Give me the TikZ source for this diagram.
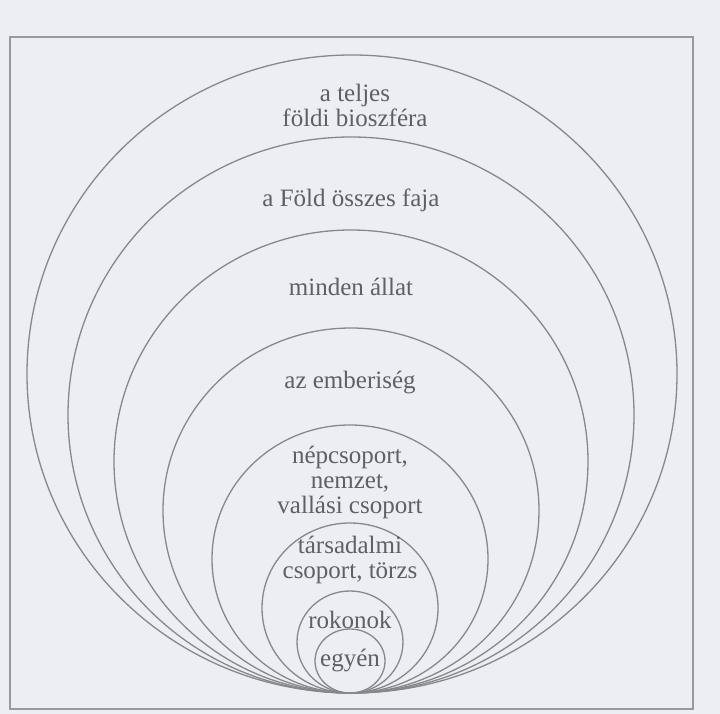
\documentclass[tikz,border=0pt]{standalone}
\usepackage{fontspec}
\setmainfont{Liberation Serif}
\definecolor{paper}{RGB}{236,238,243}
\definecolor{ink}{RGB}{135,135,140}
\definecolor{txt}{RGB}{95,95,102}
\begin{document}
\begin{tikzpicture}[x=1pt,y=-1pt,
  ring/.style={draw=ink,line width=1.3pt},
  framebox/.style={draw=ink!85,line width=1.6pt},
  lbl/.style={text=txt,font=\fontsize{25}{25}\selectfont,align=center,inner sep=0pt}]
\fill[paper] (0,0) rectangle (720,714);
\useasboundingbox (0,0) rectangle (720,714);
\draw[framebox] (10,37) rectangle (693,709);
% nested rings, all touching at the bottom point (351,693)
\coordinate (touch) at (351,693);
\draw[ring] (352,374) ellipse [x radius=325pt, y radius=319pt];
\draw[ring] (351,415) ellipse [x radius=283pt, y radius=278pt];
\draw[ring] (351,461.5) ellipse [x radius=237pt, y radius=231.5pt];
\draw[ring] (351,510.5) ellipse [x radius=188pt, y radius=182.5pt];
\draw[ring] (350,559) ellipse [x radius=138pt, y radius=134pt];
\draw[ring] (350,608) ellipse [x radius=88pt, y radius=85pt];
\draw[ring] (350,642) ellipse [x radius=53pt, y radius=51pt];
\draw[ring] (350,661) ellipse [x radius=35pt, y radius=32pt];
% labels
\node[lbl] (bio) at (355,105) {a teljes\\földi bioszféra};
\node[lbl] (faj) at (351,200) {a Föld összes faja};
\node[lbl] (allat) at (351,287) {minden állat};
\node[lbl] (ember) at (350,383) {az emberiség};
\node[lbl] (nep) at (350,482) {népcsoport,\\nemzet,\\vallási csoport};
\node[lbl] (tars) at (350,560) {társadalmi\\csoport, törzs};
\node[lbl] (rok) at (350,620) {rokonok};
\node[lbl] (egy) at (350,661) {egyén};
\end{tikzpicture}
\end{document}
